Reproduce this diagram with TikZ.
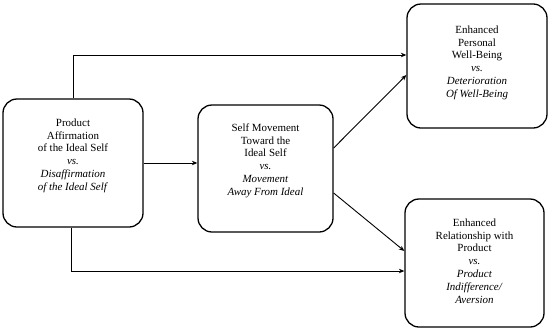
\documentclass[tikz,border=0pt]{standalone}
\usepackage{fontspec}
\setmainfont{Liberation Serif}
\usepackage{tikz}
\usetikzlibrary{positioning,arrows.meta}

\tikzset{
  stage/.style={draw,line width=1.3pt,rounded corners=14bp,inner sep=0pt},
  stagetext/.style={align=center,inner sep=0pt,font=\fontsize{11}{12.9}\selectfont},
  link/.style={-{Stealth[length=5.5bp,width=4.5bp]},line width=0.9pt}
}

\begin{document}
\begin{tikzpicture}[x=1bp,y=1bp]
\useasboundingbox (0,0) rectangle (550,330);
% the four boxes
\node[stage,minimum width=140bp,minimum height=128bp] (affirm) at (73,167) {};
\node[stage,minimum width=135bp,minimum height=127bp] (move) at (265.5,161.5) {};
\node[stage,minimum width=140bp,minimum height=124bp] (wellbeing) at (477,264) {};
\node[stage,minimum width=139bp,minimum height=128bp] (relation) at (474.5,67) {};
% their texts
\node[stagetext,below=20bp of affirm.north] (affirmtext) {Product\\Affirmation\\of the Ideal Self\\\textit{vs.}\\\textit{Disaffirmation}\\\textit{of the Ideal Self}};
\node[stagetext,below=19bp of move.north] (movetext) {Self Movement\\Toward the\\Ideal Self\\\textit{vs.}\\\textit{Movement}\\\textit{Away From Ideal}};
\node[stagetext,below=22bp of wellbeing.north] (wellbeingtext) {Enhanced\\Personal\\Well-Being\\\textit{vs.}\\\textit{Deterioration}\\\textit{Of Well-Being}};
\node[stagetext,below=20bp of relation.north] (relationtext) {Enhanced\\Relationship with\\Product\\\textit{vs.}\\\textit{Product}\\\textit{Indifference/}\\\textit{Aversion}};
% connectors
\draw[link] (affirm.east) -- (affirm.east -| move.west);
\draw[link] (affirm.north) |- ([yshift=11bp]wellbeing.west);
\draw[link] ([xshift=-2bp]affirm.south) |- ([yshift=-8bp]relation.west);
\draw[link] ([yshift=20.5bp]move.east) -- ([yshift=-9bp]wellbeing.west);
\draw[link] ([yshift=-24.5bp]move.east) -- ([yshift=12bp]relation.west);
\end{tikzpicture}
\end{document}
